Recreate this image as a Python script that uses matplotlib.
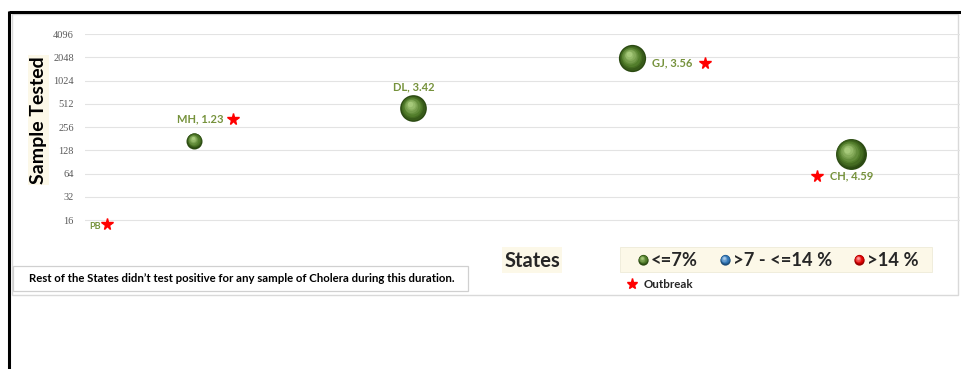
"""Cholera bubble chart: samples tested vs positivity per state."""

import matplotlib

matplotlib.use("Agg")
import matplotlib.pyplot as plt
import matplotlib.transforms as mtransforms
import numpy as np
from matplotlib.patches import Rectangle

# data
states = ["PB", "MH", "DL", "GJ", "CH"]
x_pos = [0.55, 1, 2, 3, 4]
samples = [14, 170, 450, 2000, 115]
positivity = [0.0, 1.23, 3.42, 3.56, 4.59]
outbreak = [True, True, False, True, True]
y_ticks = [16, 32, 64, 128, 256, 512, 1024, 2048, 4096]
legend_labels = ["<=7%", ">7 - <=14 %", ">14 %"]
note = "Rest of the States didn\u2019t test positive for any sample of Cholera during this duration."

# label offsets in points: (label dx, dy, ha, star dx, dy)
LABEL_POS = {
    "PB": (-0.7, -1.4, "center", 8.0, 0.7),
    "MH": (4.3, 15.8, "center", 28.0, 15.8),
    "DL": (0.7, 15.0, "center", None, None),
    "GJ": (14.4, -3.6, "left", 52.6, -3.6),
    "CH": (-15.1, -15.8, "left", -24.5, -15.8),
}

BALLS = {
    "green": ("#2b4a12", "#4f7a28", "#a6c97a"),
    "blue": ("#1f4e79", "#2e75b6", "#a9cbea"),
    "red": ("#9a0000", "#e00000", "#ff9a9a"),
}
LABEL_GREEN = "#76923c"
CREAM = "#fcf8e8"
FONT = ["Lato", "DejaVu Sans"]

plt.rcParams["font.family"] = FONT


def mix(c1, c2, t):
    a = np.array(matplotlib.colors.to_rgb(c1))
    b = np.array(matplotlib.colors.to_rgb(c2))
    return tuple(a + (b - a) * t)


def draw_ball(ax, x, y, size, palette, fig, zorder=3):
    dark, base, light = palette
    r = np.sqrt(size) / 2.0
    layers = 9
    for i in range(layers):
        t = i / (layers - 1)
        frac = 1.0 - 0.8 * t
        if t < 0.35:
            col = mix(dark, base, t / 0.35)
        else:
            col = mix(base, light, (t - 0.35) / 0.65)
        tr = mtransforms.offset_copy(ax.transData, fig=fig,
                                     x=-0.22 * r * t, y=0.28 * r * t, units="points")
        ax.scatter([x], [y], s=size * frac ** 2, color=col, linewidths=0,
                   transform=tr, zorder=zorder + i * 0.01)


fig = plt.figure(figsize=(9.62, 3.69), dpi=100)

# overlay axes in pixel units for frame, boxes, legend
over = fig.add_axes([0, 0, 1, 1], zorder=0)
over.set_xlim(0, 962)
over.set_ylim(369, 0)
over.axis("off")

over.add_patch(Rectangle((12, 14), 946, 281, fill=False, edgecolor="#d9d9d9", linewidth=1.0))
over.plot([9, 962], [11.5, 11.5], color="black", linewidth=2.2, solid_capstyle="butt")
over.plot([9.5, 9.5], [11, 369], color="black", linewidth=2.2, solid_capstyle="butt")

ax = fig.add_axes([85 / 962, 1 - 239.3 / 369, 875 / 962, (239.3 - 34) / 369], zorder=1)
ax.patch.set_alpha(0)
ax.set_yscale("log", base=2)
ax.set_ylim(9, 4096)
ax.set_xlim(0.5, 4.5)
ax.set_yticks(y_ticks)
ax.set_yticklabels([str(v) for v in y_ticks], family=["Liberation Serif", "DejaVu Serif"],
                   fontsize=7.5, color="#595959")
ax.yaxis.set_minor_locator(matplotlib.ticker.NullLocator())
ax.tick_params(axis="y", length=0, pad=8)
ax.set_xticks([])
ax.grid(axis="y", color="#e3e3e3", linewidth=0.8)
for side in ax.spines.values():
    side.set_visible(False)

size_scale = 108.0
for state, xv, yv, pv, flag in zip(states, x_pos, samples, positivity, outbreak):
    if pv > 0:
        draw_ball(ax, xv, yv, pv * size_scale, BALLS["green"], fig)
    ldx, ldy, ha, sdx, sdy = LABEL_POS[state]
    text = state if pv == 0 else f"{state}, {pv:.2f}"
    ax.annotate(text, (xv, yv), xytext=(ldx, ldy), textcoords="offset points",
                ha=ha, va="center", fontsize=6.5 if pv == 0 else 8, fontweight="bold",
                color=LABEL_GREEN, zorder=5)
    if flag and sdx is not None:
        tr = mtransforms.offset_copy(ax.transData, fig=fig, x=sdx, y=sdy, units="points")
        ax.plot([xv], [yv], marker="*", markersize=8.5, color="#ff0000", linestyle="none",
                transform=tr, zorder=5, clip_on=False)

# y axis title
fig.text(38.5 / 962, 1 - 120 / 369, "Sample Tested", rotation=90, ha="center", va="center",
         fontsize=14, fontweight="bold", color="black",
         bbox=dict(boxstyle="square,pad=0.08", facecolor=CREAM, edgecolor="none"))

# note box
over.add_patch(Rectangle((13, 266), 455, 25, facecolor="white", edgecolor="#d0d0d0", linewidth=0.9))
over.text(242, 279, note, ha="center", va="center", fontsize=8.2, fontweight="bold", color="black")

# "States" box
over.add_patch(Rectangle((502, 247), 60, 26, facecolor=CREAM, edgecolor="none"))
over.text(532, 261, "States", ha="center", va="center", fontsize=14.5, fontweight="bold", color="#262626")

# legend
over.add_patch(Rectangle((620, 247), 312, 25, facecolor=CREAM, edgecolor="#eeebd8", linewidth=0.6))
legend_x = [643, 725, 859]
for lx, lab, key in zip(legend_x, legend_labels, ["green", "blue", "red"]):
    draw_ball(over, lx, 259.5, 55, BALLS[key], fig, zorder=4)
    over.text(lx + 8, 260, lab, ha="left", va="center", fontsize=13.2, fontweight="bold",
              color="#262626", zorder=5)
over.plot([632], [283.5], marker="*", markersize=8, color="#ff0000", linestyle="none")
over.text(644, 285, "Outbreak", ha="left", va="center", fontsize=8.3, fontweight="bold", color="#262626")

fig.savefig("out.png", dpi=100)
